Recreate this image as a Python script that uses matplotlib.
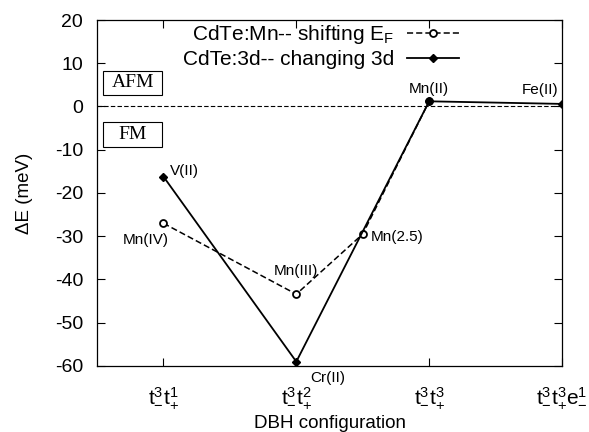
import matplotlib
matplotlib.use("Agg")
import matplotlib.pyplot as plt
from matplotlib.patches import Rectangle

# Data
config_labels = [r"t$_{-}^{3}$t$_{+}^{1}$", r"t$_{-}^{3}$t$_{+}^{2}$",
                 r"t$_{-}^{3}$t$_{+}^{3}$", r"t$_{-}^{3}$t$_{+}^{3}$e$_{-}^{1}$"]
config_pos = [1, 2, 3, 4]

mn_x = [1, 2, 2.5, 3]
mn_y = [-27.0, -43.4, -29.5, 1.2]
mn_names = ["Mn(IV)", "Mn(III)", "Mn(2.5)", "Mn(II)"]

d3_x = [1, 2, 3, 4]
d3_y = [-16.2, -59.0, 1.2, 0.6]
d3_names = ["V(II)", "Cr(II)", "Mn(II)", "Fe(II)"]

plt.rcParams['font.family'] = ['Liberation Sans', 'DejaVu Sans']
plt.rcParams['mathtext.fontset'] = 'custom'
plt.rcParams['mathtext.rm'] = 'Liberation Sans'
plt.rcParams['mathtext.it'] = 'Liberation Sans'
plt.rcParams['axes.unicode_minus'] = False

fig = plt.figure(figsize=(5.89, 4.32), dpi=100)
ax = fig.add_axes([0.1647, 0.1528, 0.7895, 0.8009])

ax.axhline(0, color='black', lw=0.8, ls=(0, (4, 2)))

ax.plot(mn_x, mn_y, color='black', lw=1.1, ls=(0, (4, 2)), marker='o',
        ms=5, mfc='white', mec='black', mew=1.3,
        label=r"CdTe:Mn-- shifting E$_\mathrm{F}$")
ax.plot(d3_x, d3_y, color='black', lw=1.3, ls='-', marker='D',
        ms=4, mfc='black', mec='black',
        label="CdTe:3d-- changing 3d")

fs_ann = 11
offs_mn = {"Mn(IV)": (-13, -12, 'center', 'center'),
           "Mn(III)": (0, 17, 'center', 'center'),
           "Mn(2.5)": (6, -2, 'left', 'center'),
           }
for x, y, n in zip(mn_x, mn_y, mn_names):
    if n in offs_mn:
        dx, dy, ha, va = offs_mn[n]
        ax.annotate(n, (x, y), xytext=(dx, dy), textcoords='offset points',
                    ha=ha, va=va, fontsize=fs_ann)
offs_d3 = {"V(II)": (5, 4, 'left', 'center'),
           "Cr(II)": (10, -12, 'left', 'center'),
           "Mn(II)": (0, 9, 'center', 'center'),
           "Fe(II)": (-16, 10, 'center', 'center')}
for x, y, n in zip(d3_x, d3_y, d3_names):
    dx, dy, ha, va = offs_d3[n]
    ax.annotate(n, (x, y), xytext=(dx, dy), textcoords='offset points',
                ha=ha, va=va, fontsize=fs_ann)

# AFM / FM boxes
for label, yc in (("AFM", 0.818), ("FM", 0.669)):
    ax.add_patch(Rectangle((0.013, yc - 0.035), 0.127, 0.07,
                           transform=ax.transAxes, fc='white', ec='black',
                           lw=0.8, zorder=3))
    ax.text(0.0765, yc, label, transform=ax.transAxes,
            family='Liberation Serif', fontsize=14, ha='center', va='center',
            zorder=4)

ax.set_xlim(0.5, 4.0)
ax.set_ylim(-60, 20)
ax.set_xticks(config_pos)
ax.set_xticklabels(config_labels, fontsize=15)
ax.set_yticks(range(-60, 21, 10))
ax.tick_params(axis='y', labelsize=14, pad=10)
ax.tick_params(axis='x', pad=14)
ax.tick_params(direction='in', top=True, right=True, length=6, width=0.8)
ax.set_xlabel("DBH configuration", fontsize=13.5, labelpad=3)
ax.set_ylabel("ΔE (meV)", fontsize=13.5, labelpad=16)
for s in ax.spines.values():
    s.set_linewidth(0.9)

leg = ax.legend(loc='upper right', bbox_to_anchor=(0.785, 1.0), frameon=False,
                markerfirst=False, fontsize=15, handlelength=2.5,
                handletextpad=0.6, labelspacing=0.2, borderpad=0.15,
                borderaxespad=0.0)

fig.savefig("out.png", dpi=100)
